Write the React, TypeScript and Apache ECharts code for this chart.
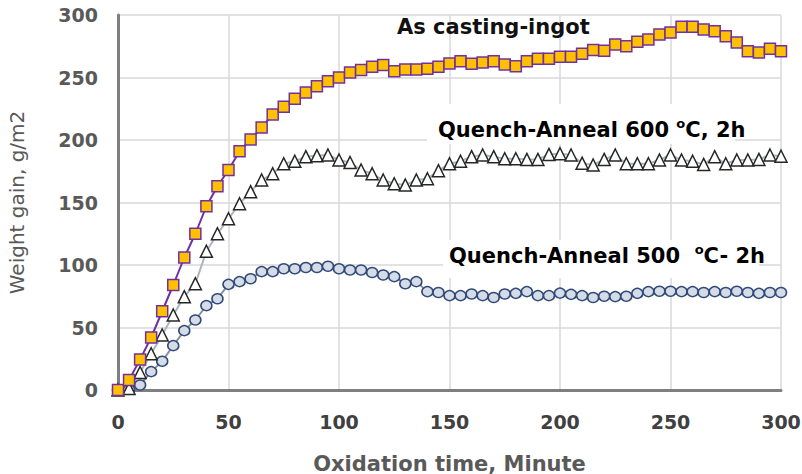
import React, { useEffect, useRef } from "react";
import * as echarts from "echarts";

const minutes = [0, 5, 10, 15, 20, 25, 30, 35, 40, 45, 50, 55, 60, 65, 70, 75, 80, 85, 90, 95, 100, 105, 110, 115, 120, 125, 130, 135, 140, 145, 150, 155, 160, 165, 170, 175, 180, 185, 190, 195, 200, 205, 210, 215, 220, 225, 230, 235, 240, 245, 250, 255, 260, 265, 270, 275, 280, 285, 290, 295, 300];

const asCasting = [0, 8, 24.5, 42, 63, 84, 106, 125, 147, 163, 176, 191, 200.5, 210, 220.5, 226.7, 233, 238, 243, 247, 250, 254, 256, 258.7, 260, 255, 256.5, 256.5, 257, 258.7, 261.3, 263, 261, 262, 263, 260.5, 259, 263, 265, 265, 266.7, 266.7, 269, 272, 271.5, 276.5, 275, 278.7, 280.5, 284.5, 286, 290.7, 290.7, 288.5, 287, 283, 278, 271, 270, 273, 271];

const anneal600 = [0, 1.3, 14, 29, 44, 60, 74.7, 85, 111, 125, 137, 149, 158.7, 168, 173, 181, 183, 186.7, 187.5, 188, 184, 182, 176, 173, 168, 165, 164, 168, 169, 175.5, 181, 183, 186.7, 188, 186.7, 185, 185, 184.5, 184.5, 188.5, 189, 188, 181.5, 180, 184.5, 188, 181, 181, 181, 184, 188, 184, 183, 180.5, 186.7, 181, 184, 184, 184.5, 188, 187];

const anneal500 = [0, 0.5, 4, 14.7, 23, 35.5, 47.5, 56, 67.5, 73, 84.5, 86.7, 89, 94.7, 94.7, 97, 97, 98, 98, 99, 97, 96, 96, 94, 92, 90.7, 85, 86.7, 78.7, 78, 75.5, 75.5, 76.8, 75.5, 74, 76.8, 77.3, 78.7, 75.5, 75.5, 77.5, 76.5, 75.5, 74, 75, 74.7, 75, 77.3, 78.7, 79, 79, 78.7, 78.7, 78, 78.7, 78, 79, 78, 77.3, 78, 78];

const seriesNames = ["Quench-Anneal 500 °C- 2h", "Quench-Anneal 600 °C, 2h", "As casting-ingot"];

const pairs = (ys: number[]) => minutes.map((m, i) => [m, ys[i]]);

const TXT = '"DejaVu Sans", "Liberation Sans", Arial, sans-serif';

export default function App() {
  const ref = useRef<HTMLDivElement>(null);
  useEffect(() => {
    document.body.style.margin = "0";
    const chart = echarts.init(ref.current!, undefined, { renderer: "svg" });
    const annoRich = {
      a: { fontFamily: TXT, fontWeight: "bold", fontSize: 21, color: "#111", lineHeight: 26 },
      s: { fontFamily: TXT, fontWeight: "bold", fontSize: 13, color: "#2458B0", verticalAlign: "top", lineHeight: 26 },
    };
    chart.setOption({
      animation: false,
      backgroundColor: "#ffffff",
      grid: { left: 118, right: 21, top: 15, bottom: 84, outerBoundsMode: "none", containLabel: false },
      xAxis: {
        type: "value",
        min: 0,
        max: 300,
        interval: 50,
        name: "Oxidation time, Minute",
        nameLocation: "middle",
        nameGap: 63,
        nameTextStyle: { fontFamily: TXT, fontWeight: "bold", fontSize: 21, color: "#595959" },
        axisLine: { show: true, lineStyle: { color: "#7f7f7f", width: 3 } },
        axisTick: { show: false },
        axisLabel: { margin: 22, fontFamily: TXT, fontWeight: "bold", fontSize: 19, color: "#404040" },
        splitLine: { show: true, lineStyle: { color: "#d9d9d9", width: 1.5 } },
      },
      yAxis: {
        type: "value",
        min: 0,
        max: 300,
        interval: 50,
        name: "Weight gain, g/m2",
        nameLocation: "middle",
        nameGap: 91,
        nameTextStyle: { fontFamily: TXT, fontSize: 20, color: "#595959" },
        axisLine: { show: true, lineStyle: { color: "#7f7f7f", width: 3 } },
        axisTick: { show: false },
        axisLabel: { margin: 20, fontFamily: TXT, fontWeight: "bold", fontSize: 19, color: "#595959" },
        splitLine: { show: true, lineStyle: { color: "#d9d9d9", width: 1.5 } },
      },
      graphic: [
        { type: "rect", z: 1, shape: { x: 427, y: 104, width: 308, height: 40 }, style: { fill: "#ffffff" } },
        { type: "rect", z: 1, shape: { x: 443, y: 240, width: 316, height: 38 }, style: { fill: "#ffffff" } },
        {
          type: "text", z: 10, left: 397, top: 16,
          style: { text: "As casting-ingot", font: 'bold 21px "DejaVu Sans"', fill: "#111" },
        },
        {
          type: "text", z: 10, left: 438, top: 117,
          style: { text: "{a|Quench-Anneal 600 }{s|o}{a|C, 2h}", rich: annoRich },
        },
        {
          type: "text", z: 10, left: 449, top: 243,
          style: { text: "{a|Quench-Anneal 500  }{s|o}{a|C- 2h}", rich: annoRich },
        },
      ],
      series: [
        {
          name: seriesNames[0],
          type: "line",
          data: pairs(anneal500),
          symbol: "circle",
          symbolSize: [11, 10],
          lineStyle: { color: "#8a8f99", width: 2 },
          itemStyle: { color: "#d6dce5", borderColor: "#2f4a7a", borderWidth: 1.5 },
          z: 2,
        },
        {
          name: seriesNames[1],
          type: "line",
          data: pairs(anneal600),
          symbol: "triangle",
          symbolSize: 12,
          lineStyle: { color: "#a9b6c3", width: 2 },
          itemStyle: { color: "#ffffff", borderColor: "#262626", borderWidth: 1.5 },
          z: 3,
        },
        {
          name: seriesNames[2],
          type: "line",
          data: pairs(asCasting),
          symbol: "rect",
          symbolSize: 11,
          lineStyle: { color: "#7030a0", width: 2 },
          itemStyle: { color: "#ffc000", borderColor: "#7030a0", borderWidth: 1.5 },
          z: 4,
        },
      ],
    });
    return () => chart.dispose();
  }, []);
  return <div ref={ref} style={{ width: 802, height: 474 }} />;
}
